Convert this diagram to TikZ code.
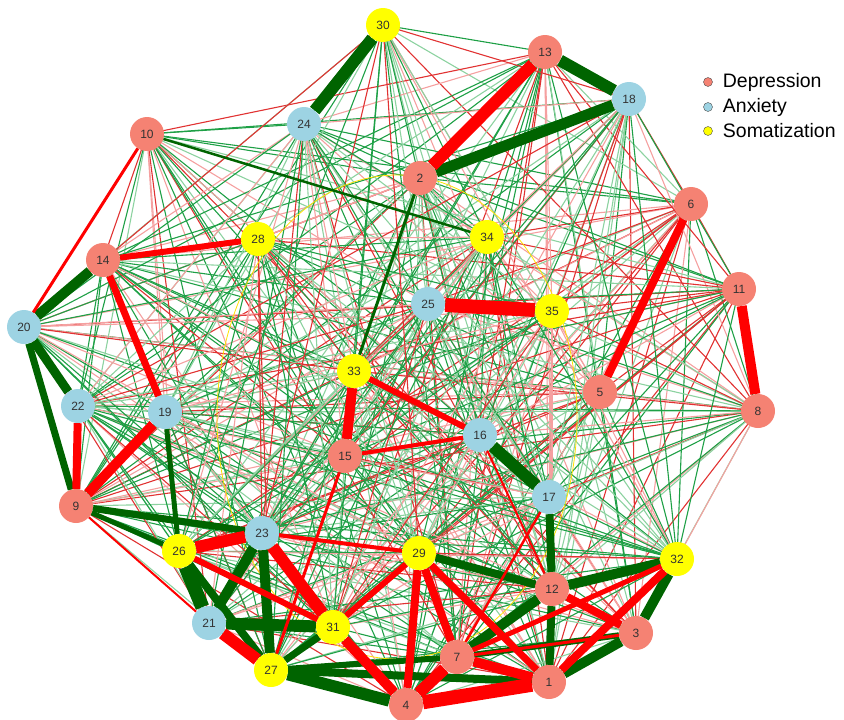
\documentclass[tikz,border=0pt]{standalone}
\usepackage{fontspec}
\setmainfont{Liberation Sans}
\usepackage{tikz}
\usetikzlibrary{positioning}
\definecolor{depc}{RGB}{245,130,115}
\definecolor{anxc}{RGB}{157,211,227}
\definecolor{somc}{RGB}{255,255,0}
\definecolor{dgreen}{RGB}{0,100,0}
\definecolor{tg}{RGB}{30,160,70}
\definecolor{tlg}{RGB}{140,210,160}
\definecolor{tr}{RGB}{225,50,50}
\definecolor{tp}{RGB}{245,160,160}
\pgfdeclarelayer{edges}
\pgfsetlayers{edges,main}
\begin{document}
\begin{tikzpicture}[x=1pt,y=-1pt,
  dep/.style={circle,fill=depc,minimum size=34pt,inner sep=0pt,font=\fontsize{12}{12}\selectfont,text=black!80},
  anx/.style={dep,fill=anxc},
  som/.style={dep,fill=somc},
  pos/.style={draw=dgreen,line width=#1},
  neg/.style={draw=red,line width=#1},
  thin/.style={line width=1.1pt},
  key/.style={circle,draw=black!70,minimum size=9pt,inner sep=0pt},
  keytext/.style={font=\fontsize{19.5}{20}\selectfont,inner sep=0pt}]
  \useasboundingbox (0,0) rectangle (844,720);
  % nodes
  \node[som] (n30) at (383,25) {30};
  \node[dep] (n13) at (545,52) {13};
  \node[anx] (n18) at (629,99) {18};
  \node[anx] (n24) at (304,124) {24};
  \node[dep] (n10) at (147,134) {10};
  \node[dep] (n2) at (420,178) {2};
  \node[dep] (n6) at (691,204) {6};
  \node[som] (n34) at (487,237) {34};
  \node[som] (n28) at (258,239) {28};
  \node[dep] (n14) at (103,260) {14};
  \node[dep] (n11) at (739,289) {11};
  \node[anx] (n25) at (428,304) {25};
  \node[som] (n35) at (552,311) {35};
  \node[anx] (n20) at (24,327) {20};
  \node[som] (n33) at (354,371) {33};
  \node[dep] (n5) at (600,392) {5};
  \node[anx] (n22) at (78,406) {22};
  \node[anx] (n19) at (165,412) {19};
  \node[dep] (n8) at (758,411) {8};
  \node[anx] (n16) at (480,435) {16};
  \node[dep] (n15) at (345,456) {15};
  \node[anx] (n17) at (549,497) {17};
  \node[dep] (n9) at (76,506) {9};
  \node[anx] (n23) at (262,533) {23};
  \node[som] (n26) at (179,551) {26};
  \node[som] (n29) at (419,553) {29};
  \node[som] (n32) at (677,559) {32};
  \node[dep] (n12) at (552,589) {12};
  \node[anx] (n21) at (209,623) {21};
  \node[som] (n31) at (333,627) {31};
  \node[dep] (n3) at (636,633) {3};
  \node[dep] (n7) at (457,657) {7};
  \node[som] (n27) at (271,670) {27};
  \node[dep] (n1) at (549,682) {1};
  \node[dep] (n4) at (406,705) {4};
  % legend
  \node[key,fill=depc] (kd) at (708,82) {};
  \node[key,fill=anxc] (ka) at (708,107) {};
  \node[key,fill=somc] (ks) at (708,131) {};
  \node[keytext,right=10pt of kd] (td) {Depression};
  \node[keytext,right=10pt of ka] (ta) {Anxiety};
  \node[keytext,right=10pt of ks] (ts) {Somatization};
  \begin{pgfonlayer}{edges}
    % weak edges
    \pgfmathsetseed{7}
    \foreach \i in {1,...,34}{
      \pgfmathtruncatemacro\k{\i+1}
      \foreach \j in {\k,...,35}{
        \pgfmathrandominteger{\rr}{0}{11}
        \ifcase\rr
          \draw[thin,tg] (n\i.center) -- (n\j.center);
        \or \draw[thin,tg] (n\i.center) -- (n\j.center);
        \or \draw[thin,tg] (n\i.center) -- (n\j.center);
        \or \draw[thin,tlg] (n\i.center) -- (n\j.center);
        \or \draw[thin,tlg] (n\i.center) -- (n\j.center);
        \or \draw[thin,tr] (n\i.center) -- (n\j.center);
        \or \draw[thin,tr] (n\i.center) -- (n\j.center);
        \or \draw[thin,tp] (n\i.center) -- (n\j.center);
        \or \draw[thin,tp] (n\i.center) -- (n\j.center);
        \or \draw[thin,tg] (n\i.center) -- (n\j.center);
        \else
        \fi
      }
    }
    \draw[yellow!85!orange,line width=.8pt] (397,417) ellipse [x radius=180pt,y radius=242pt];
    % strong edges
    \foreach \a/\b/\w in {30/24/12,13/18/12,18/2/11,20/14/10,20/22/9,20/9/7,
      16/17/12,17/12/8,12/32/10,32/3/10,3/1/10,12/7/10,29/12/8,12/1/8,7/3/6,
      9/23/7,9/26/5,26/21/14,26/27/8,23/21/10,23/27/10,21/31/12,31/27/7,
      27/4/12,27/1/8,27/7/6,19/26/5,2/33/3,10/34/2.5}
      \draw[pos=\w pt] (n\a) -- (n\b);
    \foreach \a/\b/\w in {13/2/12,25/35/14,6/5/8,11/8/10,14/28/6,14/19/7,
      19/9/10,22/9/8,10/20/3,33/15/10,33/16/6,15/16/4,26/23/12,23/31/12,
      26/31/6,21/27/12,29/31/6,29/4/8,29/7/8,29/1/7,31/4/10,7/4/12,4/1/14,
      7/1/10,12/3/8,32/1/8,32/7/5,23/29/4,15/27/3,17/7/2.5,16/12/2,9/21/2,3/7/3}
      \draw[neg=\w pt] (n\a) -- (n\b);
  \end{pgfonlayer}
\end{tikzpicture}
\end{document}
